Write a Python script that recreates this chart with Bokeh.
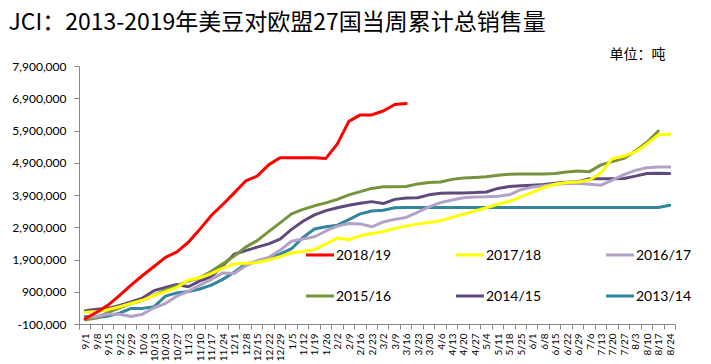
import math
from bokeh.plotting import figure
from bokeh.models import (FixedTicker, NumeralTickFormatter, Legend, LegendItem,
                          Title, Range1d, ColumnDataSource)
from bokeh.embed import file_html
from bokeh.resources import INLINE

weeks = ["9/1", "9/8", "9/15", "9/22", "9/29", "10/6", "10/13", "10/20", "10/27",
         "11/3", "11/10", "11/17", "11/24", "12/1", "12/8", "12/15", "12/22", "12/29",
         "1/5", "1/12", "1/19", "1/26", "2/2", "2/9", "2/16", "2/23", "3/2", "3/9",
         "3/16", "3/23", "3/30", "4/6", "4/13", "4/20", "4/27", "5/4", "5/11", "5/18",
         "5/25", "6/1", "6/8", "6/15", "6/22", "6/29", "7/6", "7/13", "7/20", "7/27",
         "8/3", "8/10", "8/17", "8/24"]

y_ticks = [-100000, 900000, 1900000, 2900000, 3900000, 4900000, 5900000, 6900000, 7900000]

s2018_19 = [80000, 280000, 500000, 800000, 1120000, 1420000, 1700000, 1980000, 2150000,
            2450000, 2850000, 3280000, 3620000, 3980000, 4350000, 4500000, 4850000,
            5070000, 5070000, 5070000, 5070000, 5050000, 5500000, 6200000, 6400000,
            6400000, 6520000, 6720000, 6750000]

s2017_18 = [280000, 300000, 360000, 450000, 550000, 650000, 800000, 920000, 1050000,
            1280000, 1350000, 1480000, 1650000, 1780000, 1800000, 1820000, 1900000,
            2000000, 2120000, 2170000, 2220000, 2400000, 2580000, 2530000, 2650000,
            2720000, 2780000, 2880000, 2950000, 3020000, 3060000, 3120000, 3220000,
            3320000, 3420000, 3520000, 3630000, 3720000, 3860000, 4000000, 4150000,
            4250000, 4300000, 4320000, 4380000, 4600000, 5050000, 5120000, 5250000,
            5500000, 5780000, 5800000]

s2016_17 = [100000, 150000, 220000, 220000, 150000, 220000, 420000, 550000, 780000,
            930000, 1120000, 1300000, 1500000, 1480000, 1720000, 1880000, 1980000,
            2200000, 2480000, 2550000, 2620000, 2800000, 2950000, 3030000, 3020000,
            2930000, 3080000, 3160000, 3220000, 3380000, 3550000, 3680000, 3760000,
            3830000, 3850000, 3860000, 3880000, 3920000, 4080000, 4160000, 4200000,
            4250000, 4270000, 4270000, 4250000, 4220000, 4380000, 4550000, 4680000,
            4760000, 4780000, 4780000]

s2015_16 = [50000, 100000, 280000, 420000, 550000, 650000, 800000, 970000, 1100000,
            1250000, 1350000, 1550000, 1780000, 2020000, 2300000, 2500000, 2780000,
            3050000, 3330000, 3470000, 3580000, 3670000, 3780000, 3920000, 4020000,
            4120000, 4170000, 4170000, 4180000, 4260000, 4300000, 4320000, 4400000,
            4440000, 4460000, 4480000, 4530000, 4560000, 4570000, 4570000, 4570000,
            4580000, 4630000, 4660000, 4640000, 4850000, 4950000, 5050000, 5280000,
            5550000, 5900000]

s2014_15 = [330000, 370000, 400000, 490000, 600000, 720000, 950000, 1050000, 1140000,
            1070000, 1250000, 1380000, 1720000, 2080000, 2190000, 2300000, 2400000,
            2550000, 2850000, 3100000, 3300000, 3430000, 3520000, 3600000, 3660000,
            3710000, 3650000, 3780000, 3820000, 3830000, 3920000, 3970000, 3980000,
            3980000, 3990000, 4010000, 4120000, 4180000, 4200000, 4220000, 4240000,
            4280000, 4310000, 4330000, 4420000, 4420000, 4420000, 4430000, 4500000,
            4580000, 4590000, 4580000]

s2013_14 = [150000, 120000, 160000, 250000, 400000, 400000, 450000, 780000, 880000,
            920000, 1000000, 1120000, 1300000, 1520000, 1780000, 1850000, 1950000,
            2080000, 2250000, 2600000, 2860000, 2930000, 2980000, 3150000, 3330000,
            3420000, 3440000, 3520000, 3530000, 3530000, 3530000, 3530000, 3530000,
            3530000, 3530000, 3530000, 3530000, 3530000, 3530000, 3530000, 3530000,
            3530000, 3530000, 3530000, 3530000, 3530000, 3530000, 3530000, 3530000,
            3530000, 3530000, 3600000]

series = [
    ("2018/19", s2018_19, "#FF0000"),
    ("2017/18", s2017_18, "#FFFF00"),
    ("2016/17", s2016_17, "#B3A2C7"),
    ("2015/16", s2015_16, "#77933C"),
    ("2014/15", s2014_15, "#604A7B"),
    ("2013/14", s2013_14, "#31859C"),
]

n = len(weeks)
# frame spans x=79..701 px; category axis occupies 79..675 px
x_end = (n - 0.5) + 26 * n / 596.0

p = figure(width=711, height=364, output_backend="svg", toolbar_location=None,
           title=None,
           x_range=Range1d(-0.5, x_end),
           y_range=Range1d(y_ticks[0], y_ticks[-1]),
           min_border_left=79, min_border_right=10, min_border_top=66,
           min_border_bottom=39)
p.outline_line_color = None
p.grid.visible = False
p.background_fill_color = "white"
p.border_fill_color = "white"

renderers = {}
draw_order = ["2013/14", "2014/15", "2015/16", "2016/17", "2017/18", "2018/19"]
lookup = {nm: (v, c) for nm, v, c in series}
for name in draw_order:
    vals, col = lookup[name]
    src = ColumnDataSource(dict(x=list(range(len(vals))), y=vals))
    r = p.line("x", "y", source=src, line_color=col, line_width=3,
               line_join="round", line_cap="round")
    renderers[name] = r

# y axis
ya = p.yaxis[0]
ya.ticker = FixedTicker(ticks=y_ticks)
ya.formatter = NumeralTickFormatter(format="0,0")
ya.axis_line_color = "#868686"
ya.major_tick_line_color = "#868686"
ya.major_tick_out = 5
ya.major_tick_in = 0
ya.minor_tick_line_color = None
ya.major_label_text_font = "Lato"
ya.major_label_text_font_size = "12px"
ya.major_label_text_color = "#000000"
ya.major_label_standoff = 8

# x axis
xa = p.xaxis[0]
xa.bounds = (-0.5, n - 0.5)
xa.ticker = FixedTicker(ticks=list(range(n)),
                        minor_ticks=[k - 0.5 for k in range(n + 1)])
xa.major_label_overrides = {i: w for i, w in enumerate(weeks)}
xa.major_label_orientation = math.pi / 2
xa.axis_line_color = "#868686"
xa.major_tick_line_color = None
xa.major_tick_out = 0
xa.major_tick_in = 0
xa.minor_tick_line_color = "#868686"
xa.minor_tick_out = 5
xa.minor_tick_in = 0
xa.major_label_text_font = "Lato"
xa.major_label_text_font_size = "10px"
xa.major_label_text_color = "#000000"
xa.major_label_standoff = 4

items = [LegendItem(label=nm, renderers=[renderers[nm]]) for nm, _, _ in series]
legend = Legend(items=items, ncols=3, location=(227, 13), orientation="horizontal",
                glyph_width=28, glyph_height=31, label_height=31, label_width=110,
                label_standoff=2, spacing=10, padding=0, margin=0,
                background_fill_alpha=0, border_line_alpha=0,
                label_text_font="Lato", label_text_font_size="14px",
                label_text_color="#000000")
p.add_layout(legend, "center")

unit = Title(text="单位：吨", align="right", offset=36, standoff=8,
             text_font="Noto Sans CJK SC", text_font_size="14px",
             text_font_style="normal", text_color="#000000")
p.add_layout(unit, "above")
main = Title(text="JCI：2013-2019年美豆对欧盟27国当周累计总销售量", align="left",
             offset=-71, standoff=0,
             text_font="Noto Sans CJK SC", text_font_size="23px",
             text_font_style="normal", text_color="#000000")
p.add_layout(main, "above")

open("out.html", "w").write(file_html(p, INLINE))
